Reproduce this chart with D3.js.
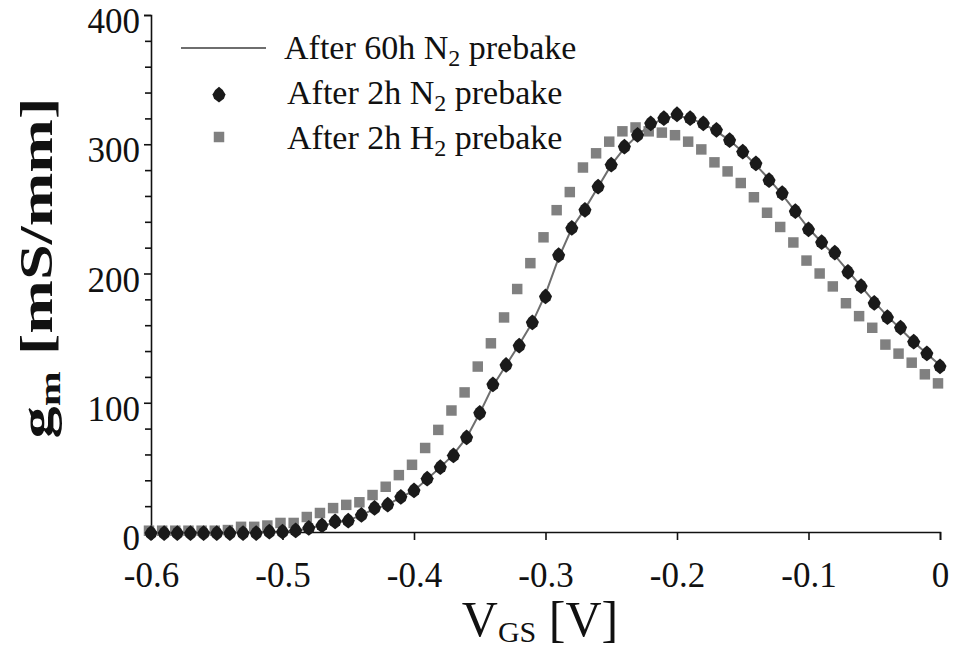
<!DOCTYPE html>
<html>
<head>
<meta charset="utf-8">
<script src="https://cdn.jsdelivr.net/npm/d3@7"></script>
<style>
  html, body { margin: 0; padding: 0; background: #fff; }
  svg { display: block; }
</style>
</head>
<body>
<svg id="chart" width="956" height="649"></svg>
<script>
// ---- data ----
const vgs = [-0.60,-0.59,-0.58,-0.57,-0.56,-0.55,-0.54,-0.53,-0.52,-0.51,
             -0.50,-0.49,-0.48,-0.47,-0.46,-0.45,-0.44,-0.43,-0.42,-0.41,
             -0.40,-0.39,-0.38,-0.37,-0.36,-0.35,-0.34,-0.33,-0.32,-0.31,
             -0.30,-0.29,-0.28,-0.27,-0.26,-0.25,-0.24,-0.23,-0.22,-0.21,
             -0.20,-0.19,-0.18,-0.17,-0.16,-0.15,-0.14,-0.13,-0.12,-0.11,
             -0.10,-0.09,-0.08,-0.07,-0.06,-0.05,-0.04,-0.03,-0.02,-0.01,0.00];

const gm60hN2 = [0,0,0,0,0,0,0,0,0,0,
                 0,1,3,5,7,9,13,18,21,27,
                 32,41,50,60,73,92,113,129,145,162,
                 184,212,235,250,267,284,297,307,315,320,
                 322,320,316,310,303,294,284,273,261,248,
                 235,224,214,202,190,178,167,157,147,138,129];

const gm2hN2 = [-1,-1,-1,-1,-1,-1,-1,-1,-1,0,
                0,1,3,5,8,8.5,13,18.5,21,27,
                32,41,50,59,73,92,114,129,144,162,
                182,214,235,249,267,284,298,307,316,320,
                323,320,316,311,303,294,285,272,262,248,
                234,224,216,201,190,177,166,158,147,138,128];

const gm2hH2 = [1,1,1,1,1,1,1.5,4,4,5,
                7,7,11.6,14.7,18.5,21,23,28.6,35,44,
                52,65,79,94,108,128,146,166,188,208,
                228,249,263,282,293,302,310,313,310,309,
                307,302,296,286,279,270,259,247,236,224,
                210,200,190,177,167,158,145,138,131,122,115];

const xTicks = [-0.6,-0.5,-0.4,-0.3,-0.2,-0.1,0];
const xTickLabels = ["-0.6","-0.5","-0.4","-0.3","-0.2","-0.1","0"];
const yTicks = [0,100,200,300,400];
const yMinorTicks = [20,40,60,80,120,140,160,180,220,240,260,280,320,340,360,380];

const seriesNames = ["After 60h N", "After 2h N", "After 2h H"];

// ---- chart ----
const FONT = "'Liberation Serif', 'DejaVu Serif', 'Times New Roman', serif";
const svg = d3.select("#chart");
const x = d3.scaleLinear().domain([-0.6, 0]).range([151, 940]);
const y = d3.scaleLinear().domain([0, 400]).range([532, 15]);

// y axis
const yAxis = svg.append("g").attr("transform", "translate(151,0)")
  .call(d3.axisLeft(y).tickValues(yTicks).tickSize(7).tickPadding(4)
        .tickFormat(d3.format("d")));
yAxis.attr("font-family", FONT);
yAxis.select(".domain").attr("stroke", "#111").attr("stroke-width", 1.6);
yAxis.selectAll(".tick line").attr("stroke", "#111").attr("stroke-width", 1.6);
yAxis.selectAll(".tick text").attr("font-size", 35).attr("dy", "0.5em")
  .attr("font-family", FONT).attr("fill", "#111");

const yMinor = svg.append("g").attr("transform", "translate(151,0)")
  .call(d3.axisLeft(y).tickValues(yMinorTicks).tickSize(6).tickFormat(""));
yMinor.select(".domain").remove();
yMinor.selectAll(".tick line").attr("stroke", "#111").attr("stroke-width", 1.6);

// x axis
const xAxis = svg.append("g").attr("transform", "translate(0,532)")
  .call(d3.axisBottom(x).tickValues(xTicks).tickSize(8).tickPadding(22)
        .tickFormat((d, i) => xTickLabels[i]));
xAxis.attr("font-family", FONT);
xAxis.select(".domain").attr("stroke", "#111").attr("stroke-width", 1.6);
xAxis.selectAll(".tick line").attr("stroke", "#111").attr("stroke-width", 1.6);
xAxis.selectAll(".tick text").attr("font-size", 35)
  .attr("font-family", FONT).attr("fill", "#111");

// line series (60h N2)
const lineGen = d3.line().x((d, i) => x(vgs[i])).y(d => y(d));
svg.append("path").datum(gm60hN2)
  .attr("fill", "none").attr("stroke", "#6e6e6e").attr("stroke-width", 2)
  .attr("d", lineGen);

// rounded "fat" diamond symbol (as in the scanned figure)
const fatDiamond = {
  draw(ctx, size) {
    const s = Math.sqrt(size) / 12;
    const pts = [[0,-7.5],[3.5,-4.5],[6,-0.5],[4.5,3.5],[0,7],[-4.5,3.5],[-6,-0.5],[-3.5,-4.5]];
    pts.forEach((p, k) => k ? ctx.lineTo(p[0]*s, p[1]*s) : ctx.moveTo(p[0]*s, p[1]*s));
    ctx.closePath();
  }
};

// squares (2h H2)
svg.append("g").selectAll("path").data(gm2hH2).join("path")
  .attr("transform", (d, i) => `translate(${x(vgs[i]) - 2},${y(d)})`)
  .attr("d", d3.symbol().type(d3.symbolSquare).size(110))
  .attr("fill", "#808080");

// diamonds (2h N2)
svg.append("g").selectAll("path").data(gm2hN2).join("path")
  .attr("transform", (d, i) => `translate(${x(vgs[i])},${y(d)})`)
  .attr("d", d3.symbol().type(fatDiamond).size(170))
  .attr("fill", "#1a1a1a");

// legend
const leg = svg.append("g").attr("font-family", FONT);
leg.append("line").attr("x1", 181).attr("x2", 266).attr("y1", 48).attr("y2", 48)
  .attr("stroke", "#6e6e6e").attr("stroke-width", 2);
leg.append("path").attr("transform", "translate(219,95)")
  .attr("d", d3.symbol().type(fatDiamond).size(170)).attr("fill", "#1a1a1a");
leg.append("path").attr("transform", "translate(219,137)")
  .attr("d", d3.symbol().type(d3.symbolSquare).size(110)).attr("fill", "#808080");

const legRows = [{y: 59, x: 284, sub: "2"}, {y: 104, x: 287, sub: "2"}, {y: 149, x: 287, sub: "2"}];
legRows.forEach((r, i) => {
  const t = leg.append("text").attr("x", r.x).attr("y", r.y).attr("font-size", 34)
    .attr("font-family", FONT).attr("fill", "#111");
  t.append("tspan").text(seriesNames[i]);
  t.append("tspan").attr("font-size", 24).attr("dy", 7).text(r.sub);
  t.append("tspan").attr("dy", -7).text(" prebake");
});

// x axis title
const xt = svg.append("text").attr("x", 540).attr("y", 636).attr("text-anchor", "middle")
  .attr("font-size", 50).attr("font-family", FONT).attr("fill", "#111");
xt.append("tspan").text("V");
xt.append("tspan").attr("font-size", 30).attr("dy", 6).text("GS");
xt.append("tspan").attr("dy", -6).text(" [V]");

// y axis title
const yt = svg.append("text").attr("transform", "translate(52,268) rotate(-90) scale(1.4,1)")
  .attr("text-anchor", "middle").attr("font-size", 46).attr("font-weight", "bold")
  .attr("font-family", FONT).attr("fill", "#111");
yt.append("tspan").text("g");
yt.append("tspan").attr("font-size", 30).attr("dy", 8).text("m");
yt.append("tspan").attr("dy", -8).text(" [mS/mm]");
</script>
</body>
</html>
